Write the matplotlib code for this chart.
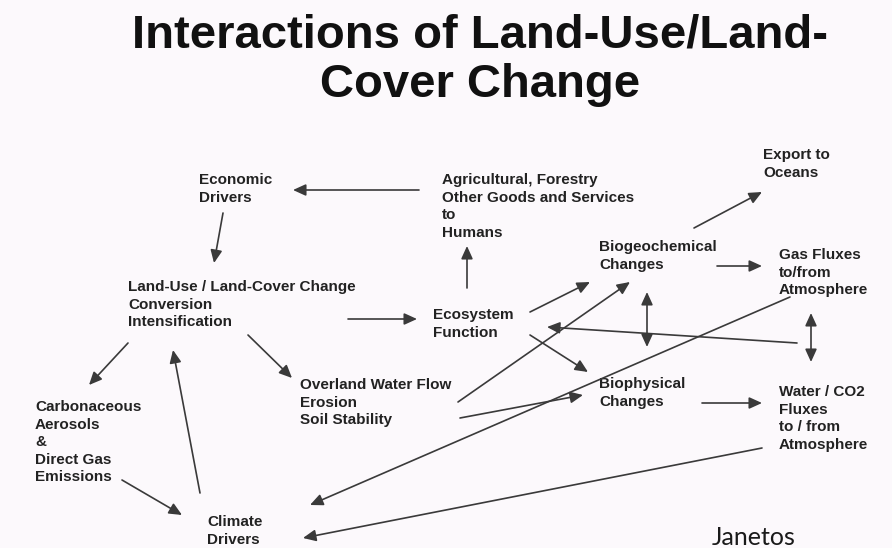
import matplotlib
matplotlib.use("Agg")
import matplotlib.pyplot as plt

# diagram content
title_lines = ["Interactions of Land-Use/Land-", "Cover Change"]
credit = "Janetos"

node_labels = {
    "econ": ["Economic", "Drivers"],
    "agri": ["Agricultural, Forestry", "Other Goods and Services", "to", "Humans"],
    "export": ["Export to", "Oceans"],
    "lulc": ["Land-Use / Land-Cover Change", "Conversion", "Intensification"],
    "eco": ["Ecosystem", "Function"],
    "biogeo": ["Biogeochemical", "Changes"],
    "gas": ["Gas Fluxes", "to/from", "Atmosphere"],
    "overland": ["Overland Water Flow", "Erosion", "Soil Stability"],
    "biophys": ["Biophysical", "Changes"],
    "water": ["Water / CO2", "Fluxes", "to / from", "Atmosphere"],
    "carbon": ["Carbonaceous", "Aerosols", "&", "Direct Gas", "Emissions"],
    "climate": ["Climate", "Drivers"],
}

# (from, to, two-way?)
edges = [
    ("agri", "econ", False),
    ("econ", "lulc", False),
    ("lulc", "eco", False),
    ("eco", "agri", False),
    ("biogeo", "export", False),
    ("biogeo", "gas", False),
    ("eco", "biogeo", False),
    ("overland", "biogeo", False),
    ("biogeo", "biophys", True),
    ("gas", "water", True),
    ("water", "eco", False),
    ("gas", "climate", False),
    ("water", "climate", False),
    ("eco", "biophys", False),
    ("overland", "biophys", False),
    ("biophys", "water", False),
    ("lulc", "carbon", False),
    ("climate", "lulc", False),
    ("lulc", "overland", False),
    ("carbon", "climate", False),
]

# layout in pixels (top-left of first text line)
node_pos = {
    "econ": (199, 173), "agri": (442, 173), "export": (763, 148),
    "lulc": (128, 280), "eco": (433, 308), "biogeo": (599, 240),
    "gas": (779, 248), "overland": (300, 378), "biophys": (599, 377),
    "water": (779, 385), "carbon": (35, 400), "climate": (207, 515),
}
edge_pos = [
    ((419, 190), (293, 190)), ((223, 213), (214, 263)), ((348, 319), (417, 319)),
    ((467, 288), (467, 246)), ((694, 228), (762, 192)), ((717, 266), (762, 266)),
    ((530, 312), (590, 282)), ((458, 402), (630, 282)), ((647, 292), (647, 347)),
    ((811, 313), (811, 362)), ((797, 343), (547, 327)), ((790, 297), (310, 505)),
    ((762, 448), (303, 538)), ((530, 335), (588, 372)), ((460, 418), (583, 395)),
    ((702, 403), (762, 403)), ((128, 343), (89, 385)), ((200, 493), (173, 350)),
    ((248, 335), (292, 378)), ((122, 480), (182, 515)),
]

W, H = 892, 548
bg = "#fcf9fc"
fig = plt.figure(figsize=(W / 100, H / 100), dpi=100, facecolor=bg)
ax = fig.add_axes([0, 0, 1, 1])
ax.set_xlim(0, W)
ax.set_ylim(H, 0)
ax.axis("off")
ax.set_facecolor(bg)

# title
for i, line in enumerate(title_lines):
    ax.text(480, 47 + 50 * i, line, ha="center", va="baseline",
            fontsize=34, fontweight="bold", family="Liberation Sans", color="#111111")

# node labels
for key, lines in node_labels.items():
    x, y = node_pos[key]
    for i, line in enumerate(lines):
        ax.text(x, y + 11 + 17.6 * i, line, ha="left", va="baseline",
                fontsize=11, fontweight="bold", family="Liberation Sans", color="#222222")

# arrows
for (src, dst, both), (p0, p1) in zip(edges, edge_pos):
    style = "<|-|>" if both else "-|>"
    ax.annotate("", xy=p1, xytext=p0,
                arrowprops=dict(arrowstyle=style + ",head_length=0.55,head_width=0.25",
                                mutation_scale=14, color="#3a3a3a", lw=1.2,
                                shrinkA=0, shrinkB=0))

ax.text(712, 545, credit, ha="left", va="baseline", fontsize=18,
        family="Lato", color="#1a1a1a")

fig.savefig("out.png", dpi=100, facecolor=bg)
